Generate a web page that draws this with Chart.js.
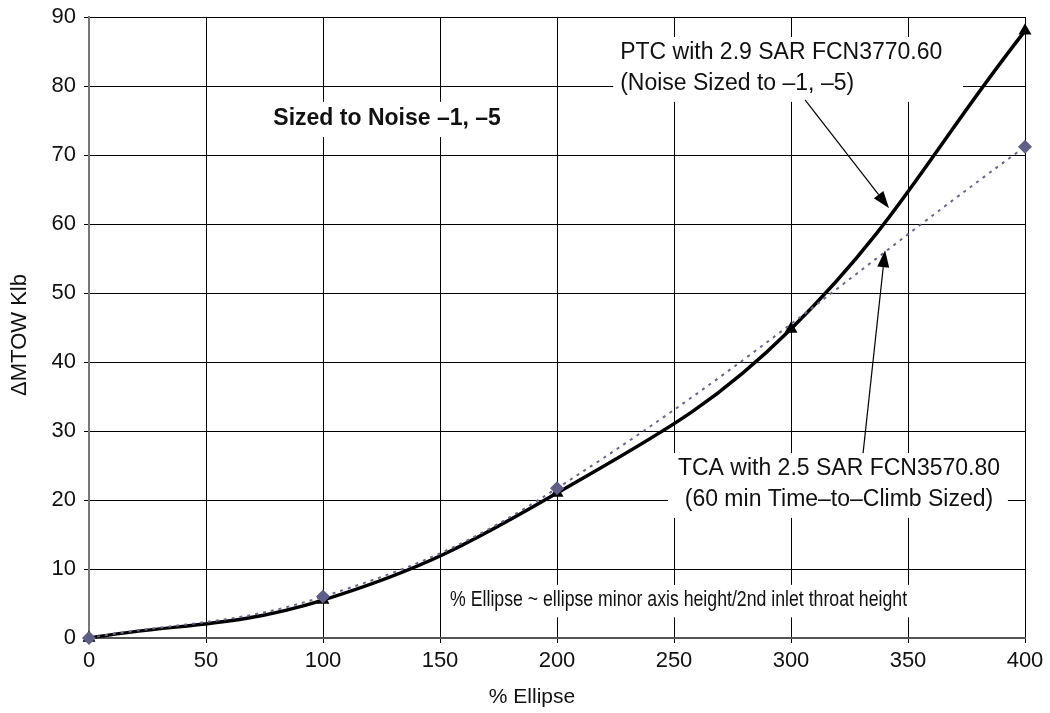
<!DOCTYPE html>
<html>
<head>
<meta charset="utf-8">
<script src="https://cdn.jsdelivr.net/npm/chart.js@4.4.1/dist/chart.umd.min.js"></script>
<style>
  html, body { margin: 0; padding: 0; background: #fff; }
  #wrap { width: 1050px; height: 713px; }
</style>
</head>
<body>
<div id="wrap"><canvas id="ellipse" width="1050" height="713"></canvas></div>
<script>
// % ellipse vs. delta MTOW
const ellipsePct = [0, 100, 200, 300, 400];
const ptcMtow = [0, 5.5, 21.0, 44.8, 88.0];

const tcaPct = [0, 100, 200, 400];
const tcaMtow = [0, 6.0, 21.7, 71.2];

const xTicks = [0, 50, 100, 150, 200, 250, 300, 350, 400];
const yTicks = [0, 10, 20, 30, 40, 50, 60, 70, 80, 90];

const FONT = '"Liberation Sans", Arial, sans-serif';

const toPoints = (xs, ys) => xs.map((x, i) => ({x: x, y: ys[i]}));

// text boxes and call-out arrows, placed in data units
const boxes = [
  {x0: 224, x1: 373.5, y0: 77.7, y1: 87.1},
  {x0: 247.4, x1: 392.7, y0: 17.4, y1: 26.8},
  {x0: 74, x1: 180, y0: 72.6, y1: 77.7},
  {x0: 151.7, x1: 354, y0: 3.0, y1: 7.7}
];
const labels = [
  {text: 'PTC with 2.9 SAR FCN3770.60', x: 227, y: 84.8, align: 'left', bold: false},
  {text: '(Noise Sized to \u20131, \u20135)', x: 227, y: 80.4, align: 'left', bold: false},
  {text: 'TCA with 2.5 SAR FCN3570.80', x: 320.5, y: 24.5, align: 'center', bold: false},
  {text: '(60 min Time\u2013to\u2013Climb Sized)', x: 320.5, y: 20.0, align: 'center', bold: false},
  {text: 'Sized to Noise \u20131, \u20135', x: 127.4, y: 75.2, align: 'center', bold: true}
];
const arrows = [
  {from: [306, 78], to: [341.9, 62.3]},
  {from: [330.8, 26.8], to: [340.2, 56.2]}
];
const footNote = {text: '% Ellipse ~ ellipse minor axis height/2nd inlet throat height', x0: 154.3, x1: 349.6, y: 5.5};

const notesPlugin = {
  id: 'notes',
  beforeDatasetsDraw(chart) {
    const {ctx, scales: {x, y}} = chart;
    ctx.save();
    ctx.fillStyle = '#fff';
    boxes.forEach(b => {
      const l = x.getPixelForValue(b.x0), r = x.getPixelForValue(b.x1);
      const t = y.getPixelForValue(b.y1), btm = y.getPixelForValue(b.y0);
      ctx.fillRect(l, t, r - l, btm - t);
    });
    ctx.fillStyle = '#111';
    ctx.textBaseline = 'middle';
    labels.forEach(lb => {
      ctx.font = (lb.bold ? 'bold ' : '') + '23px ' + FONT;
      ctx.textAlign = lb.align;
      ctx.fillText(lb.text, x.getPixelForValue(lb.x), y.getPixelForValue(lb.y));
    });
    // footnote is set narrow
    ctx.font = '22px ' + FONT;
    ctx.textAlign = 'left';
    const fx0 = x.getPixelForValue(footNote.x0);
    const fw = x.getPixelForValue(footNote.x1) - fx0;
    const sc = fw / ctx.measureText(footNote.text).width;
    ctx.translate(fx0, y.getPixelForValue(footNote.y));
    ctx.scale(sc, 1);
    ctx.fillText(footNote.text, 0, 0);
    ctx.restore();
  },
  afterDatasetsDraw(chart) {
    const {ctx, scales: {x, y}} = chart;
    ctx.save();
    ctx.strokeStyle = '#000';
    ctx.fillStyle = '#000';
    ctx.lineWidth = 1.2;
    arrows.forEach(a => {
      const x0 = x.getPixelForValue(a.from[0]), y0 = y.getPixelForValue(a.from[1]);
      const x1 = x.getPixelForValue(a.to[0]), y1 = y.getPixelForValue(a.to[1]);
      const ang = Math.atan2(y1 - y0, x1 - x0);
      const len = 17, half = 6;
      const bx = x1 - len * Math.cos(ang), by = y1 - len * Math.sin(ang);
      ctx.beginPath();
      ctx.moveTo(x0, y0);
      ctx.lineTo(bx, by);
      ctx.stroke();
      ctx.beginPath();
      ctx.moveTo(x1, y1);
      ctx.lineTo(bx + half * Math.sin(ang), by - half * Math.cos(ang));
      ctx.lineTo(bx - half * Math.sin(ang), by + half * Math.cos(ang));
      ctx.closePath();
      ctx.fill();
    });
    // axis titles
    ctx.fillStyle = '#111';
    ctx.font = '21px ' + FONT;
    ctx.textAlign = 'center';
    ctx.textBaseline = 'middle';
    ctx.fillText('% Ellipse', 532, 697);
    ctx.translate(20, 335);
    ctx.rotate(-Math.PI / 2);
    ctx.font = '22px ' + FONT;
    ctx.fillText('\u0394MTOW Klb', 0, 0);
    ctx.restore();
  }
};

const ctx = document.getElementById('ellipse').getContext('2d');

new Chart(ctx, {
  type: 'line',
  data: {
    datasets: [
      {
        label: 'TCA with 2.5 SAR FCN3570.80',
        data: toPoints(tcaPct, tcaMtow),
        borderColor: '#66668f',
        backgroundColor: '#5e5e88',
        borderWidth: 2,
        borderDash: [3, 5],
        tension: 0.4,
        pointStyle: 'rectRot',
        pointRadius: 7,
        pointBorderWidth: 0,
        clip: false
      },
      {
        label: 'PTC with 2.9 SAR FCN3770.60',
        data: toPoints(ellipsePct, ptcMtow),
        borderColor: '#000',
        backgroundColor: '#000',
        borderWidth: 3.5,
        tension: 0.4,
        pointStyle: 'triangle',
        pointRadius: 7.5,
        pointBorderWidth: 0,
        clip: false
      }
    ]
  },
  options: {
    responsive: false,
    devicePixelRatio: 1,
    animation: false,
    layout: {padding: {top: 17, right: 25, left: 0, bottom: 0}},
    plugins: {
      legend: {display: false},
      tooltip: {enabled: false}
    },
    scales: {
      x: {
        type: 'linear',
        min: 0,
        max: 400,
        afterBuildTicks: s => { s.ticks = xTicks.map(v => ({value: v})); },
        afterFit: s => { s.height = 75; s.paddingLeft = 0; s.paddingRight = 0; },
        ticks: {color: '#111', font: {family: FONT, size: 22}, padding: 5, maxRotation: 0},
        grid: {color: '#000', lineWidth: 1, tickLength: 5},
        border: {color: '#555', width: 2}
      },
      y: {
        min: 0,
        max: 90,
        afterBuildTicks: s => { s.ticks = yTicks.map(v => ({value: v})); },
        afterFit: s => { s.width = 89; s.paddingTop = 0; s.paddingBottom = 0; },
        ticks: {color: '#111', font: {family: FONT, size: 22}, padding: 8},
        grid: {color: '#000', lineWidth: 1, tickLength: 5},
        border: {color: '#777', width: 2}
      }
    }
  },
  plugins: [notesPlugin]
});
</script>
</body>
</html>
